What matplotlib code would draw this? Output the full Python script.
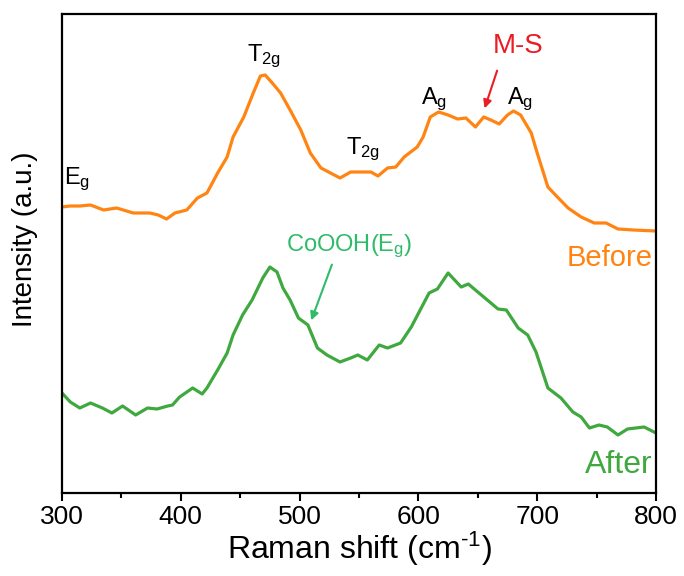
import matplotlib
matplotlib.use("Agg")
import matplotlib.pyplot as plt
import numpy as np

# ---- data (Raman shift, cm^-1 ; intensity a.u.) ----
before_x = [300, 307, 315, 324, 335, 346, 360, 374, 381, 388, 395, 405, 414, 422, 431, 439, 444, 453,
            461, 467, 471, 477, 484, 492, 501, 509, 518, 526, 534, 543, 551, 560, 566, 574, 581, 588,
            599, 604, 610, 617, 625, 633, 640, 648, 655, 661, 668, 675, 680, 686, 695, 700, 709, 717,
            726, 737, 748, 758, 768, 781, 800]
before_y = [286, 287, 287, 288, 283, 285, 280, 280, 278, 274, 280, 283, 295, 300, 320, 336, 356, 376,
            400, 417, 418, 410, 400, 383, 363, 340, 325, 320, 315, 321, 321, 321, 317, 325, 326, 336,
            346, 356, 376, 381, 378, 374, 375, 366, 376, 373, 369, 378, 382, 378, 360, 340, 306, 296,
            285, 276, 270, 270, 264, 263, 262]

after_x = [300, 307, 315, 324, 334, 342, 351, 362, 372, 380, 389, 393, 399, 410, 418, 422, 431, 439,
           444, 452, 460, 469, 475, 481, 486, 492, 499, 507, 515, 523, 534, 543, 549, 557, 567, 574,
           585, 594, 609, 616, 625, 636, 642, 655, 667, 674, 684, 692, 699, 709, 720, 730, 737, 744,
           752, 759, 768, 776, 790, 800]
after_y = [100, 91, 85, 90, 85, 80, 87, 78, 85, 84, 87, 88, 96, 105, 99, 105, 123, 140, 158, 178, 193,
           215, 226, 221, 205, 193, 175, 168, 145, 138, 131, 135, 138, 133, 148, 145, 150, 166, 200,
           204, 220, 206, 209, 196, 184, 183, 165, 158, 141, 105, 95, 81, 76, 65, 68, 66, 58, 64, 66, 60]

xticks = [300, 400, 500, 600, 700, 800]

plt.rcParams['font.family'] = ['Liberation Sans', 'DejaVu Sans']
plt.rcParams['mathtext.fontset'] = 'custom'
plt.rcParams['mathtext.rm'] = 'Liberation Sans'
plt.rcParams['mathtext.it'] = 'Liberation Sans'

orange = '#FF8412'
green = '#3FA83F'
teal = '#2EBB6A'
red = '#EA1C24'

fig = plt.figure(figsize=(6.84, 5.76), dpi=100)
ax = fig.add_axes([62/684, 1-493/576, (656-62)/684, (493-14)/576])

ax.plot(before_x, before_y, color=orange, lw=2.3, solid_joinstyle='round')
ax.plot(after_x, after_y, color=green, lw=2.3, solid_joinstyle='round')

ax.set_xlim(300, 800)
ax.set_ylim(0, 479)
ax.set_xticks(xticks)
ax.set_xticks(np.arange(350, 800, 100), minor=True)
ax.set_yticks([])
ax.tick_params(axis='x', which='major', direction='out', length=6, width=1.5, labelsize=19, pad=3)
ax.tick_params(axis='x', which='minor', direction='out', length=3.5, width=1.5)
for s in ax.spines.values():
    s.set_linewidth(1.6)

ax.set_xlabel('Raman shift (cm$^{\\mathregular{\u20101}}$)', fontsize=23, labelpad=0)
ax.set_ylabel('Intensity (a.u.)', fontsize=20)
ax.yaxis.set_label_coords(-0.040, 0.53)

fs = 17
ax.text(302, 300, r'E$_{\mathregular{g}}$', fontsize=fs, ha='left', va='bottom')
ax.text(470, 423, r'T$_{\mathregular{2g}}$', fontsize=fs, ha='center', va='bottom')
ax.text(553, 330, r'T$_{\mathregular{2g}}$', fontsize=fs, ha='center', va='bottom')
ax.text(613, 380, r'A$_{\mathregular{g}}$', fontsize=fs, ha='center', va='bottom')
ax.text(686, 380, r'A$_{\mathregular{g}}$', fontsize=fs, ha='center', va='bottom')
ax.text(684, 434, 'M-S', fontsize=20, color=red, ha='center', va='bottom')
ax.annotate('', xy=(655, 382), xytext=(667, 425),
            arrowprops=dict(arrowstyle='-|>', color=red, lw=1.5, mutation_scale=12))
ax.text(542, 233, r'CoOOH(E$_{\mathregular{g}}$)', fontsize=fs, color=teal, ha='center', va='bottom')
ax.annotate('', xy=(509, 170), xytext=(528, 231),
            arrowprops=dict(arrowstyle='-|>', color=teal, lw=1.5, mutation_scale=12))
ax.text(797, 235, 'Before', fontsize=21, color=orange, ha='right', va='center')
ax.text(797, 28, 'After', fontsize=23, color=green, ha='right', va='center')

fig.savefig('out.png', dpi=100)
